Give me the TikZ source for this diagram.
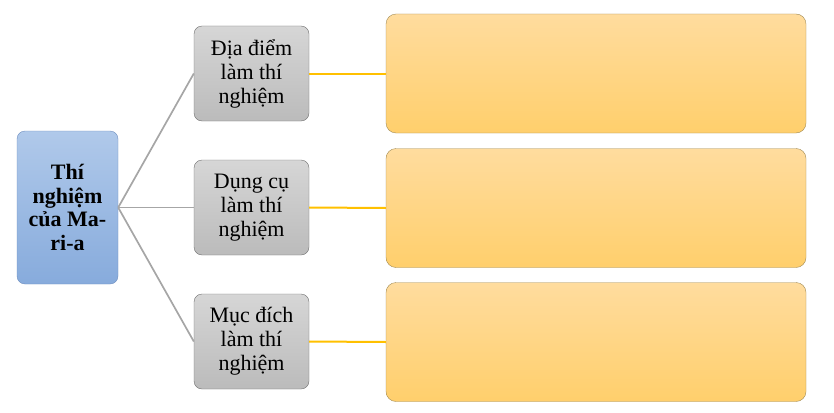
\documentclass[tikz,border=0pt]{standalone}
\usepackage{fontspec}
\setmainfont{Liberation Serif}
\usetikzlibrary{positioning}
\definecolor{bluetop}{HTML}{B0C9EA}
\definecolor{bluebot}{HTML}{87ABDC}
\definecolor{blueline}{HTML}{6F8FBF}
\definecolor{graytop}{HTML}{D6D6D6}
\definecolor{graybot}{HTML}{BBBBBB}
\definecolor{grayedge}{HTML}{707070}
\definecolor{orangetop}{HTML}{FFDC9E}
\definecolor{orangebot}{HTML}{FFCF6C}
\definecolor{orangeedge}{HTML}{A08A55}
\definecolor{linkgray}{HTML}{A6A6A6}
\definecolor{linkorange}{HTML}{FFC000}
\tikzstyle{topic} = [rectangle, rounded corners=8pt, draw=blueline, top color=bluetop, bottom color=bluebot, minimum width=101pt, minimum height=153pt, align=center, font=\fontsize{22}{23.5}\selectfont\bfseries]
\tikzstyle{item} = [rectangle, rounded corners=8pt, draw=grayedge, top color=graytop, bottom color=graybot, minimum width=115pt, minimum height=95pt, align=center, font=\fontsize{22}{24}\selectfont]
\tikzstyle{answer} = [rectangle, rounded corners=10pt, draw=orangeedge, top color=orangetop, bottom color=orangebot, minimum width=420pt, minimum height=119pt]
\tikzstyle{graylink} = [draw=linkgray, line width=1.7pt]
\tikzstyle{orangelink} = [draw=linkorange, line width=2pt]

\begin{document}
\begin{tikzpicture}[x=1pt,y=-1pt]
\useasboundingbox (0,0) rectangle (834,412);
\node (m) [topic] at (67.5,207.5) {Thí\\nghiệm\\của Ma-\\ri-a};
\node (a1) [item] at (251.5,73.5) {Địa điểm\\làm thí\\nghiệm};
\node (a2) [item] at (251.5,207.5) {Dụng cụ\\làm thí\\nghiệm};
\node (a3) [item] at (251.5,341.5) {Mục đích\\làm thí\\nghiệm};
\node (b1) [answer] at (596,73.5) {};
\node (b2) [answer] at (596,208) {};
\node (b3) [answer] at (596,342) {};
\draw [graylink] (m.east)--(a1.west);
\draw [graylink] (m.east)--(a2.west);
\draw [graylink] (m.east)--(a3.west);
\draw [orangelink] (a1.east)--(b1.west);
\draw [orangelink] (a2.east)--(b2.west);
\draw [orangelink] (a3.east)--(b3.west);
\end{tikzpicture}
\end{document}
